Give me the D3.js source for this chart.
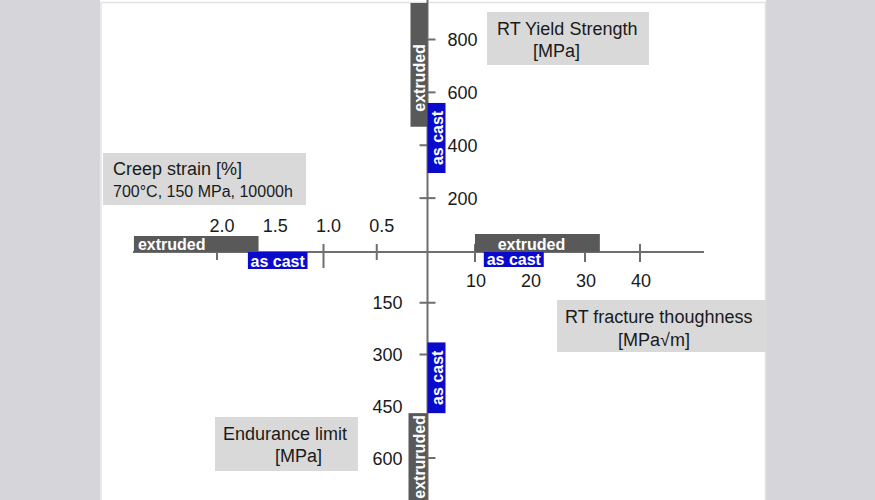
<!DOCTYPE html>
<html><head><meta charset="utf-8">
<script src="https://cdn.jsdelivr.net/npm/d3@7/dist/d3.min.js"></script>
<style>html,body{margin:0;padding:0;background:#d6d5da;}svg{display:block;}</style>
</head><body>
<script>
// ---- data ----
const yieldTicks = [200, 400, 600, 800];
const yieldBars = [ {label: "extruded", lo: 470, hi: 940}, {label: "as cast", lo: 295, hi: 560} ];
const creepTicks = [0.5, 1.0, 2.0];
const creepTickLabels = ["2.0", "1.5", "1.0", "0.5"];
const creepTickValues = [2.0, 1.5, 1.0, 0.5];
const creepBars = [ {label: "extruded", lo: 1.61, hi: 2.78}, {label: "as cast", lo: 1.15, hi: 1.71} ];
const toughTicks = [10, 20, 30, 40];
const toughBars = [ {label: "extruded", lo: 10, hi: 32.7}, {label: "as cast", lo: 11.6, hi: 22.5} ];
const enduranceTicks = [150, 300, 600];
const enduranceTickLabels = [150, 300, 450, 600];
const enduranceBars = [ {label: "as cast", lo: 265, hi: 470}, {label: "extruruded", lo: 470, hi: 740} ];
const titles = [
  {lines: ["RT Yield Strength", "[MPa]"]},
  {lines: ["Creep strain [%]", "700°C, 150 MPa, 10000h"]},
  {lines: ["RT fracture thoughness", "[MPa√m]"]},
  {lines: ["Endurance limit", "[MPa]"]}
];

// ---- layout ----
const W = 875, H = 500;
const ox = 427.5, oy = 252;
const FONT = "'Liberation Sans', Arial, Helvetica, sans-serif";
const AX = "#6e6e6e", EXT = "#595959", CAST = "#0a0acd", BOX = "#d9d9d9";

const svg = d3.select("body").append("svg").attr("width", W).attr("height", H)
  .style("font-family", FONT);

svg.append("rect").attr("width", W).attr("height", H).attr("fill", "#d6d5da");
svg.append("rect").attr("x", 100).attr("y", 0).attr("width", 666).attr("height", H).attr("fill", "#fff");
svg.append("rect").attr("x", 101).attr("y", 2.5).attr("width", 664.5).attr("height", 600)
  .attr("fill", "none").attr("stroke", "#e2e2e2").attr("stroke-width", 1.5);

const plot = svg.append("g");
plot.append("clipPath").attr("id", "clip").append("rect")
  .attr("x", 102).attr("y", 3).attr("width", 664).attr("height", H);

const yYield = d3.scaleLinear([0, 800], [oy - 1, 39.5]);
const xCreep = d3.scaleLinear([0, 2], [430, 217]);
const xTough = d3.scaleLinear([10, 40], [475, 640]);
const yEnd = d3.scaleLinear([0, 600], [oy - 1, 458]);

// axes lines
plot.append("line").attr("x1", ox).attr("x2", ox).attr("y1", 0).attr("y2", H)
  .attr("stroke", AX).attr("stroke-width", 2);
plot.append("line").attr("x1", 133).attr("x2", 704).attr("y1", oy).attr("y2", oy)
  .attr("stroke", AX).attr("stroke-width", 2);

// ticks
const tk = 8;
plot.selectAll(".ty").data(yieldTicks).join("line")
  .attr("x1", ox - tk).attr("x2", ox + tk).attr("y1", d => yYield(d)).attr("y2", d => yYield(d))
  .attr("stroke", AX).attr("stroke-width", 2);
plot.selectAll(".te").data(enduranceTicks).join("line")
  .attr("x1", ox - tk).attr("x2", ox + tk).attr("y1", d => yEnd(d)).attr("y2", d => yEnd(d))
  .attr("stroke", AX).attr("stroke-width", 2);
plot.selectAll(".tc").data(creepTicks).join("line")
  .attr("y1", oy - tk).attr("y2", d => oy + (d === 1.0 ? 16 : tk)).attr("x1", d => xCreep(d)).attr("x2", d => xCreep(d))
  .attr("stroke", AX).attr("stroke-width", 2);
plot.selectAll(".tt").data(toughTicks).join("line")
  .attr("y1", oy - tk).attr("y2", oy + 10).attr("x1", d => xTough(d)).attr("x2", d => xTough(d))
  .attr("stroke", AX).attr("stroke-width", 2);

// tick labels
const tl = svg.append("g").attr("font-size", 18).attr("fill", "#1a1a1a");
tl.selectAll(".ly").data(yieldTicks).join("text")
  .attr("x", ox + 20).attr("y", d => yYield(d) + 6.5).text(d => d);
tl.selectAll(".le").data(enduranceTickLabels).join("text")
  .attr("x", ox - 25).attr("y", d => yEnd(d) + 6.5).attr("text-anchor", "end").text(d => d);
tl.selectAll(".lc").data(creepTickValues).join("text")
  .attr("x", d => xCreep(d) + 5).attr("y", oy - 20).attr("text-anchor", "middle")
  .text((d, i) => creepTickLabels[i]);
tl.selectAll(".lt").data(toughTicks).join("text")
  .attr("x", d => xTough(d) + 1).attr("y", oy + 35).attr("text-anchor", "middle").text(d => d);

// bars
const bars = plot.append("g").attr("clip-path", "url(#clip)");
const colorOf = l => l === "as cast" ? CAST : EXT;
function txt(sel) {
  return sel.attr("fill", "#fff").attr("font-weight", "bold").attr("font-size", 16);
}
// vertical bars: side -1 left of axis, +1 right
function vbar(scale, d, side, w, align) {
  const y0 = Math.min(scale(d.lo), scale(d.hi)), y1 = Math.max(scale(d.lo), scale(d.hi));
  const x0 = side < 0 ? ox - w : ox;
  bars.append("rect").attr("x", x0).attr("y", y0).attr("width", w).attr("height", y1 - y0)
    .attr("fill", colorOf(d.label));
  const vy0 = Math.max(y0, 0), vy1 = Math.min(y1, H);
  let ty, anchor;
  if (align === "bottom") { ty = vy1 - 15; anchor = "start"; }
  else if (align === "top") { ty = vy0 + 2; anchor = "end"; }
  else { ty = (vy0 + vy1) / 2; anchor = "middle"; }
  const bx = x0 + w - 3;
  txt(bars.append("text")).attr("transform", `translate(${bx},${ty}) rotate(-90)`)
    .attr("text-anchor", anchor).text(d.label);
}
function hbar(scale, d, side, h, align) {
  const x0 = Math.min(scale(d.lo), scale(d.hi)), x1 = Math.max(scale(d.lo), scale(d.hi));
  const y0 = side < 0 ? oy - h : oy;
  bars.append("rect").attr("x", x0).attr("y", y0).attr("width", x1 - x0).attr("height", h)
    .attr("fill", colorOf(d.label));
  const t = txt(bars.append("text")).attr("y", y0 + h - 2).text(d.label);
  if (align === "start") t.attr("x", x0 + 4).attr("text-anchor", "start");
  else t.attr("x", (x0 + x1) / 2 - (align === "shift" ? 6 : 0)).attr("text-anchor", "middle");
}
vbar(yYield, yieldBars[0], -1, 17, "bottom");
vbar(yYield, yieldBars[1], 1, 18, "middle");
vbar(yEnd, enduranceBars[0], 1, 18, "middle");
vbar(yEnd, enduranceBars[1], -1, 19, "top");
hbar(xCreep, creepBars[0], -1, 16, "start");
hbar(xCreep, creepBars[1], 1, 17, "middle");
hbar(xTough, toughBars[0], -1, 18, "shift");
hbar(xTough, toughBars[1], 1, 15, "middle");

// title boxes
const boxes = [
  {x: 487, y: 12, w: 162, h: 53, tx: [497, 533], ty: [35, 57], fs: [18, 18]},
  {x: 103, y: 153, w: 203, h: 52, tx: [113, 113], ty: [175, 197], fs: [18, 16]},
  {x: 557, y: 300, w: 209, h: 52, tx: [565, 618], ty: [323, 346], fs: [18, 18]},
  {x: 215, y: 417, w: 143, h: 54, tx: [223, 275], ty: [440, 462], fs: [18, 18]}
];
boxes.forEach((b, i) => {
  const g = svg.append("g");
  g.append("rect").attr("x", b.x).attr("y", b.y).attr("width", b.w).attr("height", b.h).attr("fill", BOX);
  titles[i].lines.forEach((line, j) => {
    g.append("text").attr("x", b.tx[j]).attr("y", b.ty[j]).attr("font-size", b.fs[j])
      .attr("fill", "#1a1a1a").text(line);
  });
});
</script>
</body></html>
